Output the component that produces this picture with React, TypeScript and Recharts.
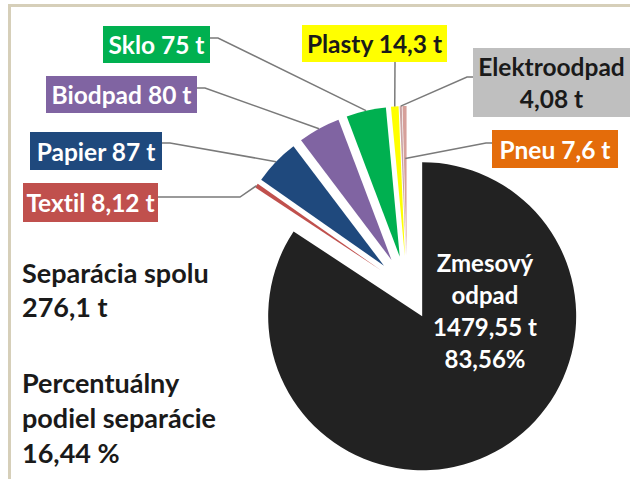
import React from 'react';
import { PieChart, Pie, Cell, Sector } from 'recharts';

// ---- data ----
const categories = ['Zmesový odpad', 'Textil', 'Papier', 'Biodpad', 'Sklo', 'Plasty', 'Elektroodpad', 'Pneu'];
const values = [1479.55, 8.12, 87, 80, 75, 14.3, 4.08, 7.6];
const boxLabels = [
  ['Zmesový', 'odpad', '1479,55 t', '83,56%'],
  ['Textil 8,12 t'],
  ['Papier 87 t'],
  ['Biodpad 80 t'],
  ['Sklo 75 t'],
  ['Plasty 14,3 t'],
  ['Elektroodpad', '4,08 t'],
  ['Pneu 7,6 t'],
];
const summaryTotal = ['Separácia spolu', '276,1 t'];
const summaryShare = ['Percentuálny', 'podiel separácie', '16,44 %'];

// ---- styles ----
const sliceColors = ['#222222', '#C0504D', '#1F497D', '#8064A2', '#00B050', '#FFFF00', '#C9A3A3', '#D6A09A'];
const boxColors = ['none', '#C0504D', '#1F497D', '#8064A2', '#00B050', '#FFFF00', '#BFBFBF', '#E46C0A'];
const textColors = ['#ffffff', '#ffffff', '#ffffff', '#ffffff', '#ffffff', '#1a1a1a', '#1a1a1a', '#ffffff'];

const FONT = 'Lato, "Open Sans", sans-serif';
const EXPLODE = 32;
const RAD = Math.PI / 180;
const NO_LIG: React.CSSProperties = { fontVariantLigatures: 'none', fontFeatureSettings: '"liga" 0, "clig" 0' };

type Box = { x: number; y: number; w: number; h: number; elbow: number[][]; anchor: number; lineGap?: number };
const layout: Record<string, Box> = {
  'Zmesový odpad': { x: 485, y: 262, w: 0, h: 0, elbow: [], anchor: 0, lineGap: 32 },
  Textil: { x: 23, y: 183, w: 135, h: 39, elbow: [[158, 197], [240, 197]], anchor: 1 },
  Papier: { x: 30, y: 132, w: 132, h: 38, elbow: [[162, 143], [170, 143]], anchor: 1 },
  Biodpad: { x: 46, y: 76, w: 151, h: 37, elbow: [[197, 88], [205, 88]], anchor: 1 },
  Sklo: { x: 103, y: 26, w: 107, h: 37, elbow: [[210, 38], [218, 38]], anchor: 1 },
  Plasty: { x: 302, y: 25, w: 145, h: 37, elbow: [[395, 62]], anchor: 1 },
  Elektroodpad: { x: 473, y: 48, w: 162, h: 69, elbow: [[473, 77], [467, 77]], anchor: 1, lineGap: 32 },
  Pneu: { x: 492, y: 130, w: 126, h: 38, elbow: [[492, 143], [486, 143]], anchor: 0.65 },
};

const data = categories.map((name, i) => ({ name, value: values[i] }));

const dirOf = (mid: number) => [Math.cos(-mid * RAD), Math.sin(-mid * RAD)];

const ExplodedSector = (props: any) => {
  const { cx, cy, midAngle, innerRadius, outerRadius, startAngle, endAngle } = props;
  const name = props.payload?.name ?? props.name;
  const idx = categories.indexOf(name);
  const [dx, dy] = dirOf(midAngle);
  const r = idx === 0 ? outerRadius + 4 : outerRadius;
  return (
    <Sector
      cx={cx + dx * EXPLODE}
      cy={cy + dy * EXPLODE}
      innerRadius={innerRadius}
      outerRadius={r}
      startAngle={startAngle}
      endAngle={endAngle}
      fill={idx >= 0 ? sliceColors[idx] : props.fill}
      stroke="none"
    />
  );
};

const renderLabel = (props: any) => {
  const { cx, cy, midAngle, outerRadius } = props;
  const name = props.payload?.name ?? props.name;
  const idx = categories.indexOf(name);
  const box = layout[name];
  if (!box) return null;
  const lines = boxLabels[idx];
  if (idx === 0) {
    return (
      <g>
        {lines.map((t, k) => (
          <text key={k} x={box.x} y={box.y + k * (box.lineGap || 32)} textAnchor="middle" dominantBaseline="central"
            fill={textColors[idx]} fontFamily={FONT} fontWeight={700} fontSize={24} style={NO_LIG}>{t}</text>
        ))}
      </g>
    );
  }
  const [dx, dy] = dirOf(midAngle);
  const ecx = cx + dx * EXPLODE;
  const ecy = cy + dy * EXPLODE;
  const ax = ecx + dx * outerRadius * box.anchor;
  const ay = ecy + dy * outerRadius * box.anchor;
  const pts = [...box.elbow, [ax, ay]].map((p) => p.join(',')).join(' ');
  const midX = box.x + Math.min(box.w, 630 - box.x) / 2;
  const gap = box.lineGap || 0;
  const firstY = box.y + box.h / 2 - ((lines.length - 1) * gap) / 2;
  return (
    <g>
      <polyline points={pts} fill="none" stroke="#7a7a7a" strokeWidth={1.5} />
      <rect x={box.x} y={box.y} width={box.w} height={box.h} fill={boxColors[idx]} />
      {lines.map((t, k) => (
        <text key={k} x={midX} y={firstY + k * gap} textAnchor="middle" dominantBaseline="central"
          fill={textColors[idx]} fontFamily={FONT} fontWeight={700} fontSize={24.5} style={NO_LIG}>{t}</text>
      ))}
    </g>
  );
};

export default function App() {
  return (
    <div style={{ position: 'absolute', left: 0, top: 0, width: 630, height: 479, background: '#fff', overflow: 'hidden' }}>
      <div style={{ position: 'absolute', left: 8, top: 4, width: 700, height: 600, borderTop: '3px solid #d6cfb9', borderLeft: '3px solid #d6cfb9' }} />
      <div style={{ position: 'absolute', left: 0, top: 0 }}>
        <PieChart width={630} height={479} margin={{ top: 0, right: 0, bottom: 0, left: 0 }}>
          <Pie
            data={data}
            dataKey="value"
            nameKey="name"
            cx={407}
            cy={288}
            outerRadius={150}
            startAngle={90}
            endAngle={-270}
            isAnimationActive={false}
            stroke="none"
            shape={ExplodedSector}
            inactiveShape={ExplodedSector}
            activeShape={ExplodedSector}
            label={renderLabel}
            labelLine={false}
          >
            {data.map((d, i) => (
              <Cell key={d.name} fill={sliceColors[i]} />
            ))}
          </Pie>
        </PieChart>
      </div>
      <svg width={630} height={479} style={{ position: 'absolute', left: 0, top: 0, pointerEvents: 'none' }}>
        {summaryTotal.map((t, k) => (
          <text key={'a' + k} x={22} y={283 + k * 34} fill="#1a1a1a" fontFamily={FONT} fontWeight={700} fontSize={27} style={NO_LIG}>{t}</text>
        ))}
        {summaryShare.map((t, k) => (
          <text key={'b' + k} x={22} y={393 + k * 35} fill="#1a1a1a" fontFamily={FONT} fontWeight={700} fontSize={27} style={NO_LIG}>{t}</text>
        ))}
      </svg>
    </div>
  );
}
